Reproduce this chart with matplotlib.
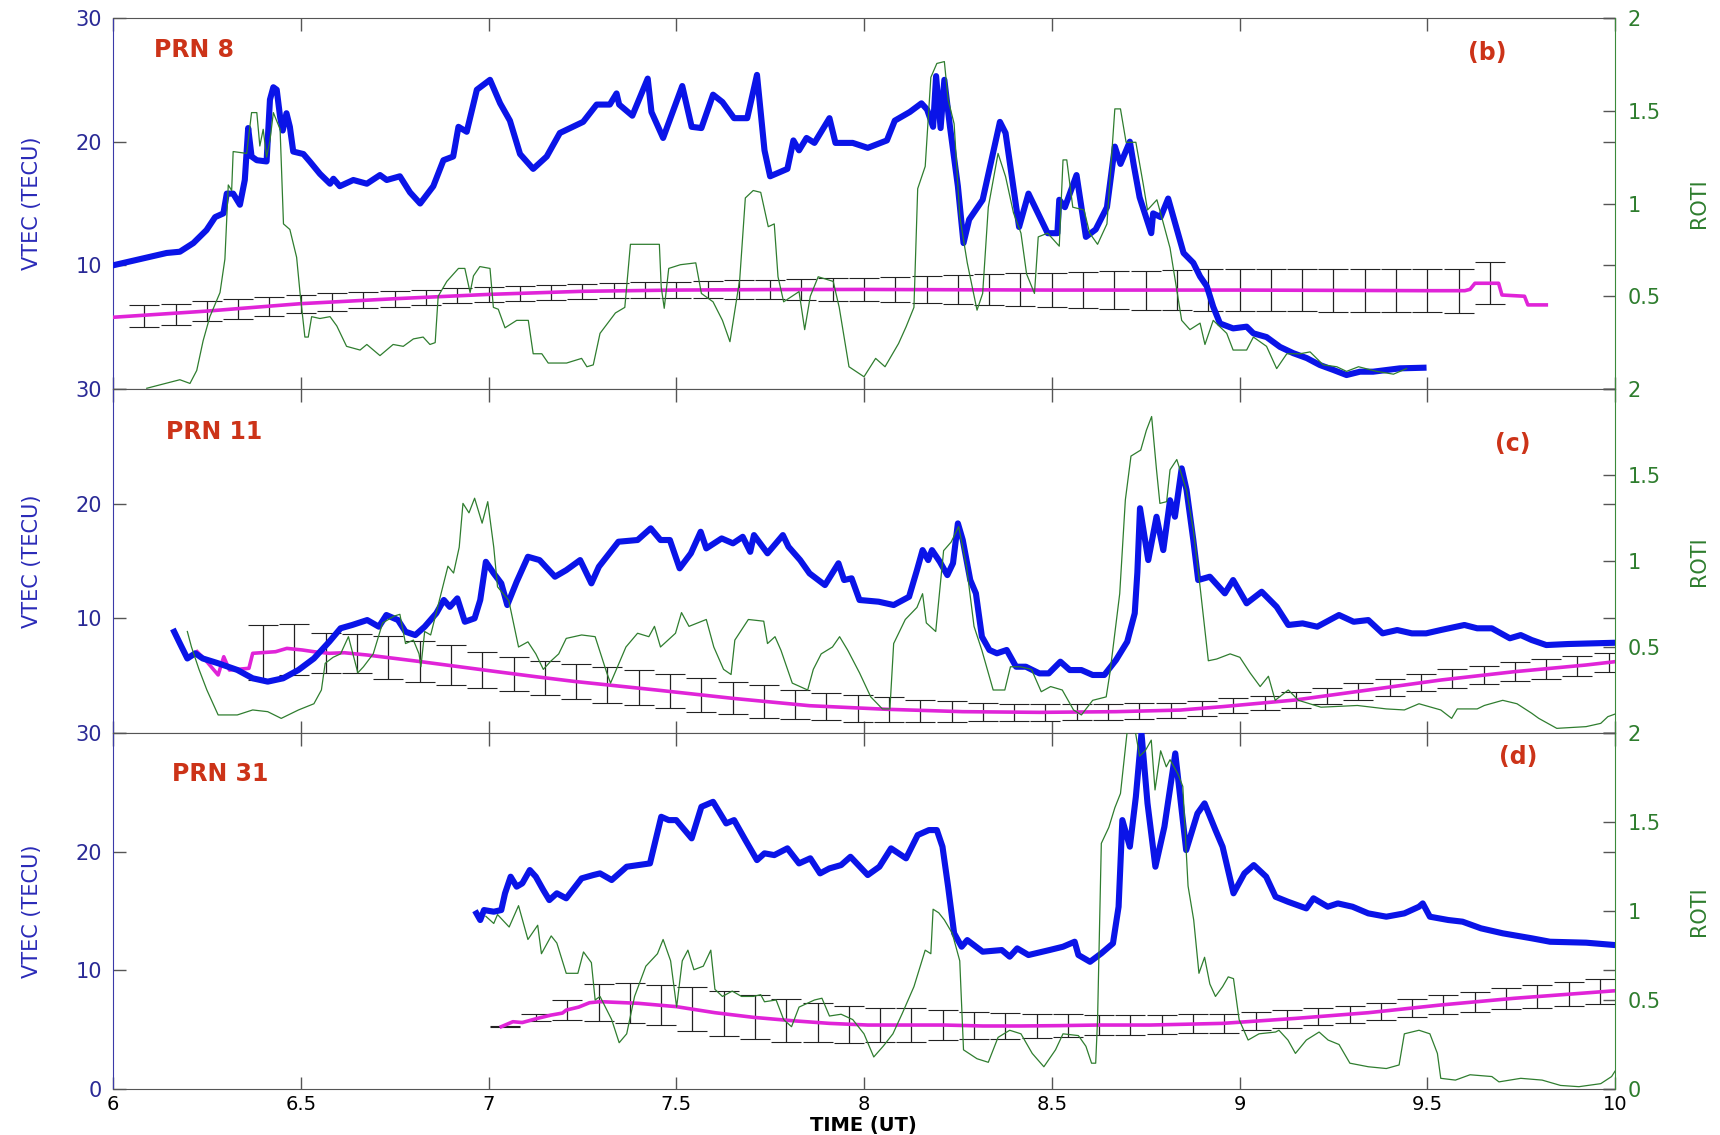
import numpy as np
import matplotlib
matplotlib.use("Agg")
import matplotlib.pyplot as plt

# ---- PRN 8 ----
vtec8_t = [6.0, 6.072, 6.143, 6.178, 6.214, 6.249, 6.272, 6.294, 6.303, 6.32, 6.338, 6.351, 6.36, 6.369, 6.383,
           6.409, 6.418, 6.427, 6.436, 6.445, 6.452, 6.462, 6.471, 6.48, 6.507, 6.524, 6.551, 6.578, 6.587, 6.604,
           6.64, 6.676, 6.711, 6.729, 6.764, 6.791, 6.818, 6.853, 6.88, 6.906, 6.92, 6.942, 6.969, 7.004, 7.031,
           7.057, 7.084, 7.119, 7.155, 7.19, 7.252, 7.288, 7.323, 7.341, 7.348, 7.383, 7.424, 7.434, 7.465, 7.516,
           7.541, 7.567, 7.598, 7.623, 7.654, 7.689, 7.715, 7.735, 7.75, 7.796, 7.812, 7.827, 7.847, 7.868, 7.908,
           7.924, 7.97, 8.01, 8.061, 8.082, 8.122, 8.153, 8.168, 8.184, 8.192, 8.204, 8.214, 8.229, 8.25, 8.265,
           8.28, 8.316, 8.362, 8.377, 8.413, 8.438, 8.489, 8.515, 8.52, 8.535, 8.566, 8.591, 8.617, 8.647, 8.668,
           8.683, 8.708, 8.719, 8.734, 8.765, 8.77, 8.79, 8.81, 8.851, 8.877, 8.895, 8.913, 8.93, 8.948, 8.983,
           9.019, 9.037, 9.072, 9.108, 9.143, 9.179, 9.214, 9.25, 9.285, 9.321, 9.356, 9.392, 9.427, 9.49]
vtec8_v = [10.0, 10.5, 11.0, 11.1, 11.8, 12.85, 13.9, 14.2, 15.8, 15.8, 14.9, 16.9, 21.1, 18.8, 18.5,
           18.4, 23.4, 24.4, 24.2, 22.0, 20.9, 22.3, 21.2, 19.2, 19.0, 18.4, 17.4, 16.6, 17.0, 16.4,
           16.9, 16.6, 17.3, 16.9, 17.2, 15.9, 15.0, 16.4, 18.5, 18.8, 21.2, 20.8, 24.2, 25.0, 23.1,
           21.7, 19.0, 17.8, 18.8, 20.7, 21.6, 23.0, 23.0, 23.9, 23.0, 22.1, 25.1, 22.4, 20.3, 24.5,
           21.2, 21.1, 23.8, 23.2, 21.9, 21.9, 25.4, 19.3, 17.2, 17.8, 20.1, 19.3, 20.3, 19.9, 21.9,
           19.9, 19.9, 19.5, 20.1, 21.7, 22.4, 23.1, 22.6, 21.2, 25.3, 21.1, 25.0, 21.2, 16.4, 11.8,
           13.7, 15.3, 21.6, 20.7, 13.1, 15.8, 12.6, 12.6, 15.3, 14.7, 17.3, 12.3, 12.9, 14.7, 19.6,
           18.2, 20.0, 18.0, 15.5, 12.6, 14.2, 13.9, 15.4, 11.0, 10.2, 9.1, 8.3, 6.65, 5.3, 4.9,
           5.04, 4.5, 4.2, 3.4, 2.9, 2.5, 1.94, 1.54, 1.13, 1.4, 1.4, 1.54, 1.67, 1.72]
roti8_t = [6.09, 6.178, 6.205, 6.223, 6.24, 6.258, 6.285, 6.298, 6.307, 6.316, 6.32, 6.356, 6.369, 6.383, 6.391,
           6.4, 6.409, 6.418, 6.427, 6.445, 6.454, 6.471, 6.489, 6.498, 6.511, 6.52, 6.529, 6.551, 6.578, 6.596,
           6.622, 6.658, 6.676, 6.711, 6.746, 6.773, 6.8, 6.826, 6.844, 6.858, 6.866, 6.889, 6.92, 6.937, 6.951,
           6.96, 6.977, 7.004, 7.013, 7.026, 7.044, 7.075, 7.106, 7.119, 7.142, 7.159, 7.208, 7.248, 7.262, 7.279,
           7.297, 7.338, 7.363, 7.378, 7.455, 7.46, 7.468, 7.48, 7.511, 7.552, 7.567, 7.598, 7.623, 7.643, 7.669,
           7.684, 7.705, 7.725, 7.745, 7.761, 7.771, 7.786, 7.827, 7.842, 7.857, 7.878, 7.918, 7.934, 7.96, 8.0,
           8.031, 8.056, 8.092, 8.112, 8.133, 8.143, 8.163, 8.178, 8.194, 8.214, 8.224, 8.24, 8.255, 8.275, 8.301,
           8.316, 8.331, 8.357, 8.377, 8.398, 8.418, 8.433, 8.454, 8.464, 8.489, 8.52, 8.53, 8.54, 8.556, 8.586,
           8.601, 8.622, 8.647, 8.668, 8.683, 8.698, 8.724, 8.744, 8.755, 8.78, 8.795, 8.815, 8.846, 8.868, 8.895,
           8.908, 8.93, 8.966, 8.983, 9.019, 9.037, 9.072, 9.099, 9.126, 9.161, 9.188, 9.223, 9.259, 9.285, 9.317,
           9.365, 9.41, 9.445]
roti8_v = [0.004, 0.05, 0.03, 0.10, 0.26, 0.39, 0.52, 0.70, 1.10, 1.07, 1.28, 1.27, 1.49, 1.49, 1.31,
           1.40, 1.25, 1.34, 1.49, 1.40, 0.89, 0.86, 0.71, 0.52, 0.28, 0.28, 0.39, 0.38, 0.39, 0.34,
           0.23, 0.21, 0.24, 0.18, 0.24, 0.23, 0.27, 0.28, 0.24, 0.25, 0.50, 0.58, 0.65, 0.65, 0.52,
           0.61, 0.66, 0.65, 0.44, 0.43, 0.33, 0.37, 0.37, 0.19, 0.19, 0.14, 0.14, 0.165, 0.12, 0.13,
           0.30, 0.41, 0.44, 0.78, 0.78, 0.55, 0.435, 0.65, 0.67, 0.68, 0.515, 0.47, 0.37, 0.255, 0.59,
           1.03, 1.07, 1.06, 0.875, 0.89, 0.605, 0.47, 0.525, 0.32, 0.50, 0.605, 0.58, 0.44, 0.12, 0.066,
           0.165, 0.12, 0.245, 0.335, 0.44, 1.08, 1.20, 1.68, 1.755, 1.765, 1.56, 1.43, 0.93, 0.68, 0.425,
           0.515, 0.98, 1.27, 1.145, 0.95, 0.84, 0.62, 0.515, 0.82, 0.84, 0.77, 1.235, 1.235, 0.98, 0.965,
           0.84, 0.78, 0.89, 1.51, 1.51, 1.33, 1.33, 1.10, 0.965, 1.02, 0.91, 0.76, 0.37, 0.32, 0.355,
           0.24, 0.37, 0.30, 0.21, 0.21, 0.28, 0.23, 0.11, 0.19, 0.19, 0.20, 0.13, 0.12, 0.095, 0.12,
           0.095, 0.08, 0.11]
mean8_t = [6.0, 6.25, 6.5, 6.75, 7.0, 7.25, 7.5, 7.75, 8.0, 8.5, 9.0, 9.5, 9.6, 9.614, 9.627, 9.69, 9.699,
           9.759, 9.768, 9.817]
mean8_v = [5.8, 6.3, 6.9, 7.3, 7.65, 7.9, 8.0, 8.04, 8.05, 8.0, 8.0, 7.95, 7.95, 8.06, 8.55, 8.55, 7.6,
           7.5, 6.8, 6.8]
bar8_start = 6.0 + 1 / 12
bar8_v = [5.9, 6.05, 6.3, 6.5, 6.7, 6.9, 7.05, 7.2, 7.3, 7.4, 7.55, 7.65, 7.75, 7.8, 7.9, 7.95, 8.0, 8.0,
          8.02, 8.03, 8.04, 8.05, 8.05, 8.05, 8.05, 8.05, 8.05, 8.05, 8.02, 8.0, 8.0, 8.0, 8.0, 8.0, 8.0,
          8.0, 8.0, 8.0, 8.0, 7.98, 7.97, 7.95, 7.95, 8.55]
bar8_err = [0.88, 0.85, 0.82, 0.8, 0.77, 0.74, 0.71, 0.68, 0.66, 0.64, 0.62, 0.6, 0.6, 0.6, 0.6, 0.62, 0.62,
            0.65, 0.7, 0.75, 0.8, 0.85, 0.9, 0.95, 1.02, 1.1, 1.18, 1.25, 1.32, 1.4, 1.46, 1.52, 1.58, 1.63,
            1.67, 1.7, 1.72, 1.73, 1.74, 1.75, 1.75, 1.75, 1.78, 1.7]

# ---- PRN 11 ----
vtec11_t = [6.163, 6.178, 6.198, 6.219, 6.239, 6.28, 6.331, 6.372, 6.412, 6.453, 6.494, 6.535, 6.576, 6.606,
            6.637, 6.677, 6.708, 6.728, 6.759, 6.779, 6.805, 6.83, 6.861, 6.881, 6.897, 6.917, 6.937, 6.963,
            6.978, 6.993, 7.014, 7.034, 7.05, 7.075, 7.105, 7.136, 7.177, 7.207, 7.244, 7.274, 7.294, 7.346,
            7.397, 7.432, 7.458, 7.483, 7.509, 7.539, 7.565, 7.58, 7.621, 7.651, 7.677, 7.697, 7.707, 7.743,
            7.784, 7.799, 7.83, 7.855, 7.896, 7.932, 7.947, 7.967, 7.988, 8.039, 8.079, 8.12, 8.141, 8.156,
            8.171, 8.181, 8.202, 8.222, 8.237, 8.25, 8.263, 8.283, 8.298, 8.314, 8.334, 8.354, 8.38, 8.405,
            8.431, 8.467, 8.492, 8.523, 8.548, 8.579, 8.609, 8.64, 8.671, 8.701, 8.721, 8.728, 8.735, 8.757,
            8.779, 8.797, 8.815, 8.828, 8.846, 8.859, 8.877, 8.89, 8.921, 8.961, 8.983, 9.019, 9.059, 9.099,
            9.13, 9.168, 9.207, 9.265, 9.304, 9.343, 9.381, 9.42, 9.459, 9.497, 9.536, 9.599, 9.633, 9.672,
            9.72, 9.749, 9.778, 9.817, 9.875, 10.0]
vtec11_v = [8.83, 7.82, 6.5, 6.95, 6.5, 6.08, 5.5, 4.77, 4.48, 4.77, 5.5, 6.5, 7.96, 9.13,
            9.42, 9.85, 9.27, 10.29, 9.85, 8.83, 8.54, 9.27, 10.44, 11.6, 11.0, 11.74, 9.7, 10.0,
            11.6, 14.93, 13.92, 13.05, 11.16, 13.19, 15.37, 15.08, 13.63, 14.2, 15.08, 13.05, 14.5, 16.68,
            16.83, 17.85, 16.83, 16.83, 14.36, 15.67, 17.55, 16.1, 16.97, 16.54, 17.11, 15.8, 17.26, 15.67,
            17.26, 16.24, 15.08, 13.92, 12.9, 14.8, 13.34, 13.49, 11.6, 11.45, 11.16, 11.88, 14.2, 15.95,
            15.08, 15.95, 14.93, 13.77, 14.8, 18.28, 16.83, 13.34, 12.18, 8.4, 7.24, 6.95, 7.24, 5.78,
            5.78, 5.2, 5.2, 6.22, 5.49, 5.49, 5.06, 5.06, 6.36, 7.96, 10.44, 14.0, 19.6, 15.08,
            18.86, 15.95, 20.3, 18.86, 23.08, 21.19, 16.83, 13.34, 13.63, 12.18, 13.34, 11.31, 12.32, 11.0,
            9.42, 9.56, 9.27, 10.29, 9.7, 9.85, 8.69, 8.98, 8.69, 8.69, 8.98, 9.42, 9.13, 9.13,
            8.26, 8.54, 8.11, 7.67, 7.76, 7.87]
roti11_t = [6.198, 6.209, 6.229, 6.25, 6.28, 6.331, 6.372, 6.412, 6.448, 6.494, 6.535, 6.555, 6.565, 6.586,
            6.606, 6.627, 6.652, 6.667, 6.693, 6.718, 6.749, 6.764, 6.779, 6.8, 6.815, 6.82, 6.83, 6.846,
            6.861, 6.892, 6.907, 6.922, 6.932, 6.948, 6.963, 6.983, 6.998, 7.014, 7.024, 7.054, 7.08, 7.105,
            7.126, 7.146, 7.167, 7.187, 7.207, 7.248, 7.284, 7.315, 7.325, 7.366, 7.397, 7.427, 7.442, 7.458,
            7.478, 7.498, 7.514, 7.534, 7.58, 7.6, 7.626, 7.646, 7.656, 7.692, 7.733, 7.743, 7.763, 7.779,
            7.809, 7.85, 7.865, 7.886, 7.916, 7.935, 7.957, 7.988, 8.018, 8.049, 8.069, 8.079, 8.11, 8.141,
            8.156, 8.166, 8.191, 8.212, 8.232, 8.252, 8.273, 8.293, 8.314, 8.344, 8.375, 8.39, 8.416, 8.446,
            8.472, 8.497, 8.528, 8.558, 8.579, 8.609, 8.645, 8.655, 8.681, 8.696, 8.711, 8.737, 8.752, 8.766,
            8.779, 8.788, 8.806, 8.815, 8.833, 8.859, 8.877, 8.895, 8.917, 8.939, 8.975, 9.001, 9.028, 9.055,
            9.077, 9.095, 9.13, 9.157, 9.217, 9.314, 9.391, 9.439, 9.478, 9.536, 9.565, 9.58, 9.633, 9.652,
            9.701, 9.739, 9.778, 9.797, 9.845, 9.923, 9.962, 9.981, 10.0]
roti11_v = [0.59, 0.50, 0.37, 0.25, 0.105, 0.105, 0.134, 0.124, 0.085, 0.134, 0.17, 0.25, 0.405, 0.44,
            0.46, 0.56, 0.35, 0.385, 0.46, 0.64, 0.68, 0.69, 0.52, 0.54, 0.46, 0.385, 0.59, 0.57,
            0.70, 0.97, 0.93, 1.08, 1.335, 1.28, 1.365, 1.22, 1.345, 1.08, 0.85, 0.77, 0.50, 0.53,
            0.46, 0.37, 0.42, 0.46, 0.55, 0.57, 0.56, 0.35, 0.29, 0.50, 0.58, 0.56, 0.62, 0.50,
            0.54, 0.58, 0.70, 0.62, 0.66, 0.50, 0.37, 0.34, 0.54, 0.66, 0.65, 0.52, 0.56, 0.48,
            0.29, 0.25, 0.37, 0.46, 0.50, 0.56, 0.48, 0.35, 0.21, 0.14, 0.14, 0.52, 0.66, 0.73,
            0.81, 0.64, 0.59, 1.06, 1.11, 1.20, 0.97, 0.62, 0.48, 0.25, 0.25, 0.385, 0.385, 0.37,
            0.24, 0.27, 0.25, 0.134, 0.105, 0.19, 0.21, 0.35, 0.81, 1.355, 1.61, 1.645, 1.76, 1.84,
            1.53, 1.335, 1.345, 1.53, 1.59, 1.41, 1.18, 0.85, 0.42, 0.43, 0.46, 0.44, 0.35, 0.27,
            0.33, 0.19, 0.25, 0.19, 0.15, 0.16, 0.14, 0.134, 0.17, 0.134, 0.085, 0.14, 0.14, 0.16,
            0.19, 0.17, 0.115, 0.085, 0.027, 0.037, 0.056, 0.095, 0.11]
mean11_t = [6.224, 6.25, 6.28, 6.295, 6.31, 6.362, 6.372, 6.433, 6.463, 6.504, 6.535, 6.576, 6.616, 6.677,
            6.749, 6.82, 6.922, 7.024, 7.126, 7.228, 7.447, 7.651, 7.855, 8.059, 8.263, 8.467, 8.671, 8.842,
            8.955, 9.149, 9.343, 9.536, 9.73, 9.923, 10.0]
mean11_v = [7.09, 6.22, 5.06, 6.65, 5.49, 5.64, 6.95, 7.09, 7.38, 7.24, 7.09, 6.95, 7.0, 6.8,
            6.51, 6.22, 5.78, 5.34, 4.91, 4.5, 3.75, 3.02, 2.38, 2.07, 1.86, 1.8, 1.86, 2.0,
            2.3, 2.88, 3.75, 4.62, 5.34, 5.93, 6.22]
bar11_start = 6.4
bar11_v = [7.0, 7.3, 7.0, 6.9, 6.6, 6.25, 5.9, 5.5, 5.15, 4.8, 4.5, 4.2, 3.95, 3.65, 3.3, 3.02, 2.75, 2.5,
           2.3, 2.15, 2.05, 1.95, 1.88, 1.83, 1.8, 1.8, 1.82, 1.85, 1.9, 1.98, 2.15, 2.38, 2.62, 2.88, 3.25,
           3.62, 4.0, 4.4, 4.75, 5.05, 5.35, 5.6, 5.85, 6.15]
bar11_err = [2.4, 2.2, 1.75, 1.7, 1.85, 1.8, 1.75, 1.6, 1.5, 1.5, 1.5, 1.55, 1.55, 1.5, 1.5, 1.4, 1.4, 1.25,
             1.2, 1.15, 1.05, 0.95, 0.88, 0.8, 0.75, 0.75, 0.7, 0.7, 0.7, 0.65, 0.65, 0.65, 0.65, 0.68, 0.7,
             0.72, 0.75, 0.78, 0.8, 0.82, 0.84, 0.85, 0.86, 0.87]

# ---- PRN 31 ----
vtec31_t = [6.968, 6.978, 6.988, 7.014, 7.034, 7.044, 7.059, 7.075, 7.09, 7.11, 7.126, 7.146, 7.162, 7.182,
            7.207, 7.248, 7.279, 7.297, 7.328, 7.368, 7.43, 7.46, 7.48, 7.5, 7.541, 7.567, 7.598, 7.633,
            7.654, 7.684, 7.715, 7.735, 7.761, 7.796, 7.827, 7.857, 7.883, 7.908, 7.939, 7.964, 8.01, 8.041,
            8.072, 8.112, 8.143, 8.173, 8.194, 8.209, 8.224, 8.24, 8.26, 8.275, 8.316, 8.367, 8.388, 8.408,
            8.438, 8.494, 8.53, 8.561, 8.571, 8.602, 8.632, 8.663, 8.678, 8.688, 8.708, 8.724, 8.739, 8.755,
            8.776, 8.8, 8.829, 8.858, 8.888, 8.907, 8.936, 8.955, 8.984, 9.013, 9.038, 9.071, 9.096, 9.129,
            9.178, 9.197, 9.235, 9.262, 9.301, 9.343, 9.391, 9.439, 9.478, 9.488, 9.507, 9.556, 9.594, 9.643,
            9.701, 9.778, 9.827, 9.923, 10.0]
vtec31_v = [14.8, 14.24, 15.08, 14.94, 15.08, 16.49, 17.89, 17.05, 17.33, 18.45, 17.89, 16.76, 15.92, 16.49,
            16.07, 17.75, 18.03, 18.17, 17.61, 18.73, 19.01, 22.94, 22.66, 22.66, 21.12, 23.78, 24.2, 22.38,
            22.66, 20.98, 19.29, 19.86, 19.71, 20.28, 19.01, 19.44, 18.17, 18.59, 18.87, 19.57, 18.03, 18.73,
            20.28, 19.44, 21.4, 21.82, 21.82, 20.42, 17.05, 13.12, 11.99, 12.55, 11.57, 11.71, 11.15, 11.85,
            11.29, 11.71, 11.99, 12.41, 11.29, 10.72, 11.43, 12.27, 15.36, 22.66, 20.42, 24.63, 29.97, 24.07,
            18.73, 22.1, 28.28, 20.13, 23.22, 24.07, 21.82, 20.41, 16.49, 18.17, 18.87, 17.89, 16.2, 15.78,
            15.22, 16.07, 15.36, 15.64, 15.36, 14.8, 14.52, 14.8, 15.36, 15.64, 14.52, 14.24, 14.1, 13.54,
            13.12, 12.7, 12.41, 12.33, 12.13]
roti31_t = [6.993, 7.014, 7.024, 7.055, 7.08, 7.105, 7.131, 7.141, 7.167, 7.182, 7.207, 7.238, 7.253, 7.274,
            7.284, 7.297, 7.328, 7.348, 7.368, 7.389, 7.419, 7.45, 7.465, 7.485, 7.501, 7.516, 7.531, 7.547,
            7.572, 7.592, 7.603, 7.623, 7.649, 7.674, 7.705, 7.725, 7.735, 7.766, 7.786, 7.807, 7.827, 7.868,
            7.888, 7.908, 7.939, 7.97, 8.0, 8.026, 8.051, 8.077, 8.102, 8.133, 8.163, 8.178, 8.184, 8.199,
            8.214, 8.235, 8.255, 8.265, 8.301, 8.331, 8.357, 8.388, 8.418, 8.448, 8.479, 8.51, 8.53, 8.571,
            8.591, 8.606, 8.617, 8.622, 8.632, 8.652, 8.668, 8.683, 8.703, 8.719, 8.734, 8.749, 8.765, 8.775,
            8.79, 8.805, 8.815, 8.836, 8.849, 8.863, 8.878, 8.892, 8.907, 8.921, 8.936, 8.955, 8.97, 8.984,
            8.999, 9.023, 9.052, 9.096, 9.105, 9.129, 9.149, 9.178, 9.212, 9.236, 9.265, 9.294, 9.343, 9.391,
            9.425, 9.439, 9.478, 9.507, 9.527, 9.536, 9.575, 9.614, 9.672, 9.691, 9.749, 9.806, 9.855, 9.904,
            9.962, 9.991, 10.0]
roti31_v = [0.97, 0.93, 0.98, 0.91, 1.03, 0.84, 0.92, 0.76, 0.86, 0.82, 0.65, 0.65, 0.77, 0.71,
            0.50, 0.52, 0.39, 0.26, 0.31, 0.52, 0.69, 0.76, 0.84, 0.72, 0.46, 0.72, 0.78, 0.67,
            0.69, 0.78, 0.56, 0.52, 0.55, 0.52, 0.52, 0.53, 0.49, 0.50, 0.39, 0.35, 0.46, 0.50,
            0.51, 0.41, 0.42, 0.39, 0.31, 0.18, 0.24, 0.31, 0.425, 0.575, 0.78, 0.76, 1.01, 0.99,
            0.95, 0.875, 0.72, 0.22, 0.17, 0.15, 0.29, 0.33, 0.31, 0.20, 0.125, 0.22, 0.31, 0.30,
            0.24, 0.145, 0.145, 0.39, 1.38, 1.47, 1.58, 1.66, 2.05, 2.05, 1.87, 1.90, 1.96, 1.68,
            1.90, 1.81, 1.85, 1.77, 1.70, 1.14, 0.95, 0.65, 0.74, 0.59, 0.52, 0.575, 0.63, 0.62,
            0.39, 0.275, 0.31, 0.32, 0.33, 0.275, 0.20, 0.275, 0.32, 0.275, 0.25, 0.145, 0.125, 0.115,
            0.135, 0.31, 0.33, 0.31, 0.20, 0.06, 0.05, 0.08, 0.07, 0.04, 0.06, 0.05, 0.02, 0.013,
            0.03, 0.07, 0.1]
mean31_t = [7.034, 7.065, 7.09, 7.13, 7.167, 7.197, 7.207, 7.24, 7.269, 7.297, 7.399, 7.5, 7.603, 7.705,
            7.807, 7.908, 8.01, 8.112, 8.214, 8.316, 8.418, 8.52, 8.622, 8.724, 8.762, 8.955, 9.149, 9.343,
            9.536, 9.73, 10.0]
mean31_v = [5.25, 5.67, 5.6, 5.95, 6.23, 6.4, 6.65, 6.9, 7.27, 7.36, 7.22, 6.94, 6.43, 6.04,
            5.76, 5.53, 5.39, 5.39, 5.39, 5.31, 5.31, 5.34, 5.39, 5.39, 5.39, 5.53, 5.95, 6.43,
            7.08, 7.64, 8.28]
bar31_start = 7.043
bar31_v = [5.3, 6.0, 6.65, 7.3, 7.25, 7.05, 6.75, 6.35, 6.05, 5.8, 5.6, 5.45, 5.39, 5.39, 5.39, 5.33, 5.31,
           5.32, 5.35, 5.39, 5.39, 5.4, 5.48, 5.55, 5.72, 5.9, 6.1, 6.3, 6.5, 6.8, 7.1, 7.35, 7.6, 7.8, 8.0,
           8.2]
bar31_err = [0.05, 0.3, 0.85, 1.55, 1.68, 1.68, 1.83, 1.9, 1.83, 1.8, 1.68, 1.54, 1.47, 1.4, 1.26, 1.12, 1.1,
             1.0, 0.98, 0.85, 0.84, 0.8, 0.8, 0.8, 0.77, 0.72, 0.7, 0.7, 0.72, 0.75, 0.8, 0.85, 0.9, 0.95,
             1.0, 1.05]

panels = [
    ("PRN 8", "(b)", vtec8_t, vtec8_v, roti8_t, roti8_v, mean8_t, mean8_v, bar8_start, bar8_v, bar8_err),
    ("PRN 11", "(c)", vtec11_t, vtec11_v, roti11_t, roti11_v, mean11_t, mean11_v, bar11_start, bar11_v, bar11_err),
    ("PRN 31", "(d)", vtec31_t, vtec31_v, roti31_t, roti31_v, mean31_t, mean31_v, bar31_start, bar31_v, bar31_err),
]
name_pos = [(0.027, 0.915), (0.035, 0.875), (0.039, 0.885)]
tag_pos = [(0.902, 0.905), (0.92, 0.84), (0.923, 0.933)]

BLUE = "#0a14e8"
GREEN = "#2f7d2f"
MAGENTA = "#e024d8"
RED = "#cc3318"
AXBLUE = "#2a2a96"
AXGREEN = "#2e7d2e"
GREY = "#555555"

fig = plt.figure(figsize=(17.2, 11.35), dpi=100)
plt.rcParams["font.family"] = "DejaVu Sans"

W = 1720.0
H = 1135.0
left, right = 113 / W, 1615 / W
edges = [18, 389, 733, 1089]

for i, (name, tag, vt, vv, rt, rv, mt, mv, b0, bv, be) in enumerate(panels):
    top = 1 - edges[i] / H
    bottom = 1 - edges[i + 1] / H
    ax = fig.add_axes([left, bottom, right - left, top - bottom])
    ax2 = ax.twinx()

    bt = b0 + np.arange(len(bv)) / 12.0
    ax.errorbar(bt, bv, yerr=be, fmt="none", ecolor="#222222", elinewidth=0.9,
                capsize=11, capthick=0.8, zorder=2)
    ax.plot(mt, mv, color=MAGENTA, lw=2.6, zorder=3, solid_joinstyle="round")
    ax.plot(vt, vv, color=BLUE, lw=4.4, zorder=4, solid_joinstyle="round")
    ax2.plot(rt, rv, color=GREEN, lw=0.9, zorder=5)

    ax.set_xlim(6, 10)
    ax.set_ylim(0, 30)
    ax2.set_ylim(0, 2)
    ax.set_xticks(np.arange(6, 10.01, 0.5))
    ax.set_yticks([0, 10, 20, 30])
    ax2.set_yticks([0, 0.5, 1, 1.5, 2])
    # the lower panel's top labels sit where the upper panel's zero would go
    if i < 2:
        ax.set_yticklabels(["", "10", "20", "30"])
        ax2.set_yticklabels(["", "0.5", "1", "1.5", "2"])
    else:
        ax.set_yticklabels(["0", "10", "20", "30"])
        ax2.set_yticklabels(["0", "0.5", "1", "1.5", "2"])

    ax.tick_params(axis="x", direction="in", top=True, bottom=True, length=9, width=1,
                   color=GREY, labelsize=14, pad=4, labelcolor="black")
    ax.tick_params(axis="y", direction="in", left=True, right=True, length=9, width=1,
                   color=GREY, labelsize=15, pad=8, labelcolor=AXBLUE)
    ax2.tick_params(axis="y", direction="in", length=9, width=1, color=GREY,
                    labelsize=15, pad=9, labelcolor=AXGREEN)

    if i < 2:
        ax.set_xticklabels([])
    else:
        ax.set_xticklabels(["6", "6.5", "7", "7.5", "8", "8.5", "9", "9.5", "10"])

    for sp in ("top", "bottom"):
        ax.spines[sp].set_color(GREY)
    ax.spines["left"].set_color("#3a3aa8")
    ax.spines["right"].set_visible(False)
    ax2.spines["right"].set_color("#3a8a3a")
    for sp in ("left", "top", "bottom"):
        ax2.spines[sp].set_visible(False)

    ax.text(-0.054, 0.5, "VTEC (TECU)", transform=ax.transAxes, rotation=90,
            ha="center", va="center", fontsize=15, color="#2a2ab8")
    ax2.text(1.056, 0.5, "ROTI", transform=ax.transAxes, rotation=90,
             ha="center", va="center", fontsize=15, color=AXGREEN)
    ax2.text(name_pos[i][0], name_pos[i][1], name, transform=ax.transAxes, ha="left",
             va="center", fontsize=17, fontweight="bold", color=RED)
    ax2.text(tag_pos[i][0], tag_pos[i][1], tag, transform=ax.transAxes, ha="left",
             va="center", fontsize=17, fontweight="bold", color=RED)

fig.text(0.502, 1 - 1125 / H, "TIME (UT)", ha="center", va="center", fontsize=14, fontweight="bold")

fig.savefig("out.png", dpi=100)
